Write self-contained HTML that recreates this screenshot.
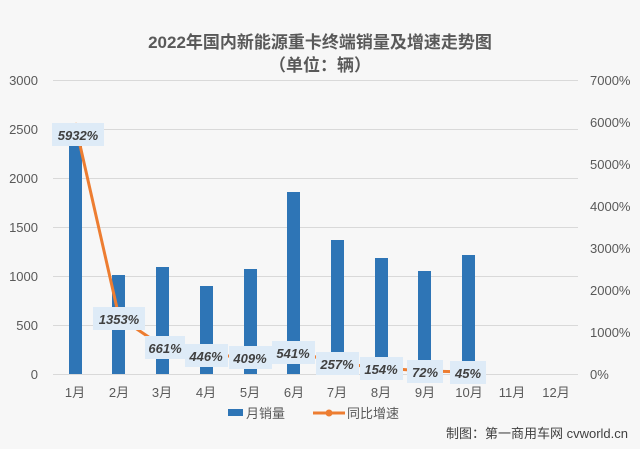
<!DOCTYPE html>
<html><head><meta charset="utf-8"><style>
body{margin:0;background:#f7f7f7;}
svg{display:block;font-family:"Liberation Sans","Noto Sans CJK SC",sans-serif;}
</style></head><body>
<svg width="640" height="449" viewBox="0 0 640 449">
<rect width="640" height="449" fill="#f7f7f7"/>
<text x="320" y="48" text-anchor="middle" font-size="17" font-weight="bold" fill="#595959">2022年国内新能源重卡终端销量及增速走势图</text>
<text x="320" y="71" text-anchor="middle" font-size="17" font-weight="bold" fill="#595959">（单位：辆）</text>
<g stroke="#d9d9d9" stroke-width="1">
<line x1="53" x2="578" y1="80.5" y2="80.5"/><line x1="53" x2="578" y1="129.5" y2="129.5"/>
<line x1="53" x2="578" y1="178.5" y2="178.5"/><line x1="53" x2="578" y1="227.5" y2="227.5"/>
<line x1="53" x2="578" y1="276.5" y2="276.5"/><line x1="53" x2="578" y1="325.5" y2="325.5"/>
<line x1="53" x2="578" y1="374.5" y2="374.5"/>
</g>
<g font-size="13" fill="#595959" text-anchor="end">
<text x="38" y="85">3000</text><text x="38" y="134">2500</text><text x="38" y="183">2000</text>
<text x="38" y="232">1500</text><text x="38" y="281">1000</text><text x="38" y="330">500</text><text x="38" y="379">0</text>
</g>
<g font-size="13" fill="#595959" text-anchor="start">
<text x="590" y="85">7000%</text><text x="590" y="127">6000%</text><text x="590" y="169">5000%</text>
<text x="590" y="211">4000%</text><text x="590" y="253">3000%</text><text x="590" y="295">2000%</text>
<text x="590" y="337">1000%</text><text x="590" y="379">0%</text>
</g>
<g fill="#2e75b6">
<rect x="69" y="143" width="13" height="231"/>
<rect x="112" y="275" width="13" height="99"/>
<rect x="156" y="267" width="13" height="107"/>
<rect x="200" y="286" width="13" height="88"/>
<rect x="244" y="269" width="13" height="105"/>
<rect x="287" y="192" width="13" height="182"/>
<rect x="331" y="240" width="13" height="134"/>
<rect x="375" y="258" width="13" height="116"/>
<rect x="418" y="271" width="13" height="103"/>
<rect x="462" y="255" width="13" height="119"/>
</g>
<polyline fill="none" stroke="#ed7d31" stroke-width="3" stroke-linejoin="round" points="75,123 119,317 162,346 206,355 250,357 294,351 337,363 381,368 425,371 469,372"/>
<g font-size="13" font-weight="bold" font-style="italic" fill="#404040" text-anchor="middle">
<rect x="52" y="123" width="52" height="23" fill="#deebf7"/><text x="78" y="140">5932%</text>
<rect x="93" y="307" width="52" height="23" fill="#deebf7"/><text x="119" y="324">1353%</text>
<rect x="145" y="336" width="40" height="23" fill="#deebf7"/><text x="165" y="353">661%</text>
<rect x="185" y="344" width="43" height="23" fill="#deebf7"/><text x="206" y="361">446%</text>
<rect x="229" y="346" width="43" height="23" fill="#deebf7"/><text x="250" y="363">409%</text>
<rect x="272" y="341" width="43" height="23" fill="#deebf7"/><text x="293" y="358">541%</text>
<rect x="316" y="352" width="43" height="23" fill="#deebf7"/><text x="337" y="369">257%</text>
<rect x="360" y="357" width="43" height="23" fill="#deebf7"/><text x="381" y="374">154%</text>
<rect x="407" y="360" width="36" height="23" fill="#deebf7"/><text x="425" y="377">72%</text>
<rect x="450" y="361" width="36" height="23" fill="#deebf7"/><text x="468" y="378">45%</text>
</g>
<g font-size="13" fill="#595959" text-anchor="middle">
<text x="75" y="397">1月</text><text x="119" y="397">2月</text><text x="162" y="397">3月</text>
<text x="206" y="397">4月</text><text x="250" y="397">5月</text><text x="294" y="397">6月</text>
<text x="337" y="397">7月</text><text x="381" y="397">8月</text><text x="425" y="397">9月</text>
<text x="469" y="397">10月</text><text x="512" y="397">11月</text><text x="556" y="397">12月</text>
</g>
<rect x="228" y="409" width="15" height="7" fill="#2e75b6"/>
<text x="246" y="418" font-size="13" fill="#595959">月销量</text>
<line x1="313" x2="345" y1="413" y2="413" stroke="#ed7d31" stroke-width="3"/>
<circle cx="329" cy="413" r="3.5" fill="#ed7d31"/>
<text x="347" y="418" font-size="13" fill="#595959">同比增速</text>
<text x="628" y="438" text-anchor="end" font-size="13" fill="#404040">制图：第一商用车网 cvworld.cn</text>
</svg>
</body></html>
